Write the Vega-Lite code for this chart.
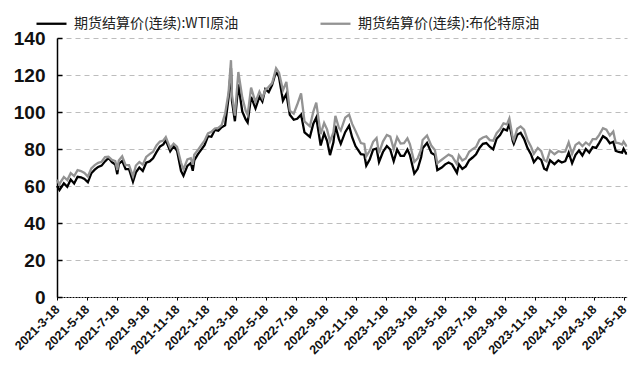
{
  "$schema": "https://vega.github.io/schema/vega-lite/v6.json",
  "width": 570,
  "height": 259,
  "autosize": {"type": "none"},
  "padding": {"left": 57, "top": 38, "right": 7, "bottom": 68},
  "background": "white",
  "config": {"view": {"stroke": null}, "font": "Liberation Sans"},
  "data": {"values": [
    {"d":"2021-03-18","WTI":60.0,"Brent":63.3},
    {"d":"2021-03-23","WTI":57.8,"Brent":60.8},
    {"d":"2021-03-25","WTI":58.6,"Brent":62.0},
    {"d":"2021-04-01","WTI":61.45,"Brent":64.86},
    {"d":"2021-04-08","WTI":59.6,"Brent":63.2},
    {"d":"2021-04-15","WTI":63.46,"Brent":66.94},
    {"d":"2021-04-22","WTI":61.4,"Brent":65.4},
    {"d":"2021-04-29","WTI":65.0,"Brent":68.6},
    {"d":"2021-05-06","WTI":64.7,"Brent":68.1},
    {"d":"2021-05-13","WTI":63.8,"Brent":67.05},
    {"d":"2021-05-20","WTI":62.0,"Brent":65.1},
    {"d":"2021-05-27","WTI":66.85,"Brent":69.46},
    {"d":"2021-06-03","WTI":68.8,"Brent":71.3},
    {"d":"2021-06-10","WTI":70.3,"Brent":72.5},
    {"d":"2021-06-17","WTI":71.0,"Brent":73.1},
    {"d":"2021-06-24","WTI":73.3,"Brent":75.6},
    {"d":"2021-07-01","WTI":75.2,"Brent":75.8},
    {"d":"2021-07-08","WTI":72.9,"Brent":74.1},
    {"d":"2021-07-15","WTI":71.6,"Brent":73.5},
    {"d":"2021-07-19","WTI":66.4,"Brent":68.6},
    {"d":"2021-07-22","WTI":71.9,"Brent":73.8},
    {"d":"2021-07-29","WTI":73.6,"Brent":76.05},
    {"d":"2021-08-05","WTI":69.1,"Brent":71.3},
    {"d":"2021-08-12","WTI":69.1,"Brent":71.3},
    {"d":"2021-08-20","WTI":62.3,"Brent":65.2},
    {"d":"2021-08-26","WTI":67.4,"Brent":71.1},
    {"d":"2021-09-02","WTI":69.99,"Brent":73.0},
    {"d":"2021-09-09","WTI":68.1,"Brent":71.5},
    {"d":"2021-09-16","WTI":72.6,"Brent":75.7},
    {"d":"2021-09-23","WTI":73.3,"Brent":77.25},
    {"d":"2021-09-30","WTI":75.0,"Brent":78.5},
    {"d":"2021-10-07","WTI":78.3,"Brent":81.95},
    {"d":"2021-10-14","WTI":81.3,"Brent":84.0},
    {"d":"2021-10-21","WTI":82.5,"Brent":84.6},
    {"d":"2021-10-26","WTI":84.65,"Brent":86.4},
    {"d":"2021-11-04","WTI":78.8,"Brent":80.5},
    {"d":"2021-11-11","WTI":81.6,"Brent":82.9},
    {"d":"2021-11-18","WTI":79.0,"Brent":81.2},
    {"d":"2021-11-26","WTI":68.15,"Brent":72.7},
    {"d":"2021-12-01","WTI":65.6,"Brent":68.9},
    {"d":"2021-12-09","WTI":70.9,"Brent":74.4},
    {"d":"2021-12-16","WTI":72.4,"Brent":75.0},
    {"d":"2021-12-20","WTI":68.2,"Brent":71.5},
    {"d":"2021-12-23","WTI":73.8,"Brent":76.85},
    {"d":"2021-12-30","WTI":76.99,"Brent":79.3},
    {"d":"2022-01-06","WTI":79.5,"Brent":81.99},
    {"d":"2022-01-13","WTI":82.1,"Brent":84.5},
    {"d":"2022-01-20","WTI":86.9,"Brent":88.4},
    {"d":"2022-01-27","WTI":86.6,"Brent":89.3},
    {"d":"2022-02-03","WTI":90.3,"Brent":91.1},
    {"d":"2022-02-10","WTI":89.9,"Brent":91.4},
    {"d":"2022-02-17","WTI":91.8,"Brent":92.97},
    {"d":"2022-02-24","WTI":92.8,"Brent":99.1},
    {"d":"2022-03-03","WTI":107.7,"Brent":110.5},
    {"d":"2022-03-08","WTI":123.7,"Brent":128.0},
    {"d":"2022-03-10","WTI":106.0,"Brent":109.3},
    {"d":"2022-03-16","WTI":95.0,"Brent":98.0},
    {"d":"2022-03-23","WTI":114.9,"Brent":121.6},
    {"d":"2022-03-31","WTI":100.3,"Brent":107.9},
    {"d":"2022-04-07","WTI":96.0,"Brent":100.6},
    {"d":"2022-04-11","WTI":94.3,"Brent":98.5},
    {"d":"2022-04-18","WTI":108.2,"Brent":113.2},
    {"d":"2022-04-27","WTI":102.0,"Brent":105.3},
    {"d":"2022-05-05","WTI":108.3,"Brent":111.0},
    {"d":"2022-05-11","WTI":105.7,"Brent":107.5},
    {"d":"2022-05-17","WTI":112.4,"Brent":111.9},
    {"d":"2022-05-24","WTI":110.8,"Brent":113.6},
    {"d":"2022-05-31","WTI":114.7,"Brent":115.6},
    {"d":"2022-06-08","WTI":122.1,"Brent":123.6},
    {"d":"2022-06-14","WTI":118.9,"Brent":121.2},
    {"d":"2022-06-22","WTI":106.2,"Brent":111.7},
    {"d":"2022-06-29","WTI":109.8,"Brent":116.3},
    {"d":"2022-07-06","WTI":98.5,"Brent":100.7},
    {"d":"2022-07-14","WTI":95.8,"Brent":99.1},
    {"d":"2022-07-21","WTI":96.35,"Brent":103.9},
    {"d":"2022-07-29","WTI":98.6,"Brent":110.0},
    {"d":"2022-08-05","WTI":89.0,"Brent":94.9},
    {"d":"2022-08-16","WTI":86.5,"Brent":92.3},
    {"d":"2022-08-23","WTI":93.7,"Brent":100.2},
    {"d":"2022-08-29","WTI":97.0,"Brent":105.1},
    {"d":"2022-09-07","WTI":81.9,"Brent":88.0},
    {"d":"2022-09-14","WTI":88.5,"Brent":94.1},
    {"d":"2022-09-20","WTI":84.45,"Brent":90.6},
    {"d":"2022-09-26","WTI":76.7,"Brent":84.1},
    {"d":"2022-10-03","WTI":83.6,"Brent":88.9},
    {"d":"2022-10-07","WTI":92.6,"Brent":97.9},
    {"d":"2022-10-14","WTI":85.6,"Brent":91.6},
    {"d":"2022-10-18","WTI":82.8,"Brent":90.0},
    {"d":"2022-10-27","WTI":89.1,"Brent":96.96},
    {"d":"2022-11-04","WTI":92.6,"Brent":98.6},
    {"d":"2022-11-10","WTI":86.5,"Brent":93.7},
    {"d":"2022-11-17","WTI":81.6,"Brent":89.8},
    {"d":"2022-11-28","WTI":77.2,"Brent":83.2},
    {"d":"2022-12-05","WTI":76.9,"Brent":82.7},
    {"d":"2022-12-09","WTI":71.0,"Brent":76.1},
    {"d":"2022-12-16","WTI":74.3,"Brent":79.0},
    {"d":"2022-12-23","WTI":79.6,"Brent":83.9},
    {"d":"2022-12-30","WTI":80.3,"Brent":85.9},
    {"d":"2023-01-04","WTI":73.0,"Brent":77.8},
    {"d":"2023-01-12","WTI":78.4,"Brent":84.0},
    {"d":"2023-01-20","WTI":81.6,"Brent":87.6},
    {"d":"2023-01-27","WTI":79.7,"Brent":86.7},
    {"d":"2023-02-03","WTI":73.4,"Brent":79.9},
    {"d":"2023-02-10","WTI":79.7,"Brent":86.4},
    {"d":"2023-02-17","WTI":76.3,"Brent":83.0},
    {"d":"2023-02-24","WTI":76.3,"Brent":83.2},
    {"d":"2023-03-03","WTI":79.7,"Brent":85.8},
    {"d":"2023-03-08","WTI":76.7,"Brent":82.7},
    {"d":"2023-03-17","WTI":66.7,"Brent":73.0},
    {"d":"2023-03-24","WTI":69.3,"Brent":74.99},
    {"d":"2023-03-31","WTI":75.7,"Brent":79.8},
    {"d":"2023-04-03","WTI":80.4,"Brent":84.9},
    {"d":"2023-04-12","WTI":83.3,"Brent":87.3},
    {"d":"2023-04-21","WTI":77.9,"Brent":81.7},
    {"d":"2023-04-28","WTI":76.8,"Brent":79.5},
    {"d":"2023-05-03","WTI":68.6,"Brent":72.3},
    {"d":"2023-05-12","WTI":70.0,"Brent":74.2},
    {"d":"2023-05-19","WTI":71.7,"Brent":75.6},
    {"d":"2023-05-26","WTI":72.7,"Brent":76.95},
    {"d":"2023-06-02","WTI":71.7,"Brent":76.1},
    {"d":"2023-06-12","WTI":67.1,"Brent":71.8},
    {"d":"2023-06-16","WTI":71.8,"Brent":76.6},
    {"d":"2023-06-23","WTI":69.2,"Brent":73.85},
    {"d":"2023-06-30","WTI":70.6,"Brent":74.9},
    {"d":"2023-07-07","WTI":73.9,"Brent":78.5},
    {"d":"2023-07-14","WTI":75.4,"Brent":79.9},
    {"d":"2023-07-21","WTI":77.1,"Brent":81.1},
    {"d":"2023-07-28","WTI":80.6,"Brent":84.99},
    {"d":"2023-08-04","WTI":82.8,"Brent":86.2},
    {"d":"2023-08-11","WTI":83.2,"Brent":86.8},
    {"d":"2023-08-18","WTI":81.25,"Brent":84.8},
    {"d":"2023-08-25","WTI":79.8,"Brent":84.5},
    {"d":"2023-09-01","WTI":85.55,"Brent":88.55},
    {"d":"2023-09-08","WTI":87.5,"Brent":90.65},
    {"d":"2023-09-15","WTI":90.8,"Brent":93.9},
    {"d":"2023-09-22","WTI":90.0,"Brent":93.3},
    {"d":"2023-09-27","WTI":93.7,"Brent":96.55},
    {"d":"2023-10-04","WTI":84.2,"Brent":85.8},
    {"d":"2023-10-06","WTI":82.8,"Brent":84.6},
    {"d":"2023-10-13","WTI":87.7,"Brent":90.9},
    {"d":"2023-10-20","WTI":88.75,"Brent":92.2},
    {"d":"2023-10-27","WTI":85.5,"Brent":90.5},
    {"d":"2023-11-03","WTI":80.5,"Brent":84.9},
    {"d":"2023-11-10","WTI":77.2,"Brent":81.4},
    {"d":"2023-11-16","WTI":72.9,"Brent":77.4},
    {"d":"2023-11-24","WTI":75.5,"Brent":80.6},
    {"d":"2023-12-01","WTI":74.1,"Brent":78.9},
    {"d":"2023-12-07","WTI":69.3,"Brent":74.05},
    {"d":"2023-12-12","WTI":68.6,"Brent":73.2},
    {"d":"2023-12-19","WTI":73.9,"Brent":79.2},
    {"d":"2023-12-28","WTI":71.8,"Brent":77.15},
    {"d":"2024-01-05","WTI":73.8,"Brent":78.8},
    {"d":"2024-01-12","WTI":72.7,"Brent":78.3},
    {"d":"2024-01-19","WTI":73.4,"Brent":78.6},
    {"d":"2024-01-26","WTI":78.0,"Brent":83.55},
    {"d":"2024-02-02","WTI":72.3,"Brent":77.3},
    {"d":"2024-02-09","WTI":76.8,"Brent":82.2},
    {"d":"2024-02-16","WTI":79.2,"Brent":83.5},
    {"d":"2024-02-23","WTI":76.5,"Brent":81.6},
    {"d":"2024-03-01","WTI":79.97,"Brent":83.55},
    {"d":"2024-03-08","WTI":78.0,"Brent":82.1},
    {"d":"2024-03-15","WTI":81.0,"Brent":85.3},
    {"d":"2024-03-22","WTI":80.6,"Brent":85.4},
    {"d":"2024-03-28","WTI":83.2,"Brent":87.5},
    {"d":"2024-04-05","WTI":86.9,"Brent":91.2},
    {"d":"2024-04-12","WTI":85.7,"Brent":90.45},
    {"d":"2024-04-19","WTI":83.1,"Brent":87.3},
    {"d":"2024-04-26","WTI":83.9,"Brent":89.5},
    {"d":"2024-05-01","WTI":79.0,"Brent":83.4},
    {"d":"2024-05-07","WTI":78.4,"Brent":83.2},
    {"d":"2024-05-14","WTI":78.0,"Brent":82.4},
    {"d":"2024-05-17","WTI":80.1,"Brent":83.98},
    {"d":"2024-05-22","WTI":77.6,"Brent":81.9},
    {"d":"2024-05-24","WTI":77.7,"Brent":82.1}
  ]},
  "transform": [{"fold": ["WTI", "Brent"], "as": ["series", "price"]}],
  "mark": {"type": "line", "strokeWidth": 2.3, "interpolate": "linear"},
  "encoding": {
    "x": {
      "field": "d", "type": "temporal",
      "scale": {"type": "utc", "domain": [{"year": 2021, "month": 3, "date": 18, "utc": true}, {"year": 2024, "month": 5, "date": 24, "utc": true}]},
      "axis": {
        "title": null,
        "values": [
          {"year":2021,"month":3,"date":18,"utc":true},{"year":2021,"month":5,"date":18,"utc":true},{"year":2021,"month":7,"date":18,"utc":true},{"year":2021,"month":9,"date":18,"utc":true},{"year":2021,"month":11,"date":18,"utc":true},
          {"year":2022,"month":1,"date":18,"utc":true},{"year":2022,"month":3,"date":18,"utc":true},{"year":2022,"month":5,"date":18,"utc":true},{"year":2022,"month":7,"date":18,"utc":true},{"year":2022,"month":9,"date":18,"utc":true},{"year":2022,"month":11,"date":18,"utc":true},
          {"year":2023,"month":1,"date":18,"utc":true},{"year":2023,"month":3,"date":18,"utc":true},{"year":2023,"month":5,"date":18,"utc":true},{"year":2023,"month":7,"date":18,"utc":true},{"year":2023,"month":9,"date":18,"utc":true},{"year":2023,"month":11,"date":18,"utc":true},
          {"year":2024,"month":1,"date":18,"utc":true},{"year":2024,"month":3,"date":18,"utc":true},{"year":2024,"month":5,"date":18,"utc":true}
        ],
        "labelExpr": "utcFormat(datum.value, '%Y-%-m-%-d')",
        "labelAngle": -45, "labelAlign": "right", "labelBaseline": "middle",
        "labelFontSize": 12.5, "labelFontWeight": "bold", "labelColor": "#111",
        "labelPadding": 7, "labelOverlap": false, "labelBound": false, "labelFlush": false,
        "domainColor": "#000", "domainWidth": 1.2, "domainDash": [2, 1],
        "tickColor": "#000", "tickSize": 3, "grid": false
      }
    },
    "y": {
      "field": "price", "type": "quantitative",
      "scale": {"domain": [0, 140], "nice": false, "zero": true},
      "axis": {
        "title": null, "values": [0, 20, 40, 60, 80, 100, 120, 140],
        "labelFontSize": 19, "labelFontWeight": "bold", "labelColor": "#111",
        "labelPadding": 17,
        "domainColor": "#000", "domainWidth": 1.5,
        "tickColor": "#000", "tickSize": -5, "tickWidth": 1.5,
        "grid": true, "gridColor": "#bdbdbd", "gridDash": [5, 4], "gridWidth": 1
      }
    },
    "color": {
      "field": "series", "type": "nominal",
      "scale": {"domain": ["WTI", "Brent"], "range": ["#000000", "#939393"]},
      "legend": {
        "title": null, "orient": "none", "direction": "horizontal",
        "legendX": -22, "legendY": -31,
        "symbolType": "stroke", "symbolSize": 900, "symbolStrokeWidth": 2.3,
        "labelExpr": "datum.label == 'WTI' ? '期货结算价(连续):WTI原油' : '期货结算价(连续):布伦特原油'",
        "labelFont": "Noto Sans CJK SC", "labelFontSize": 14, "labelColor": "#222",
        "labelLimit": 400, "labelOffset": 6, "columnPadding": 76
      }
    },
    "order": {"field": "d", "type": "temporal"}
  }
}
